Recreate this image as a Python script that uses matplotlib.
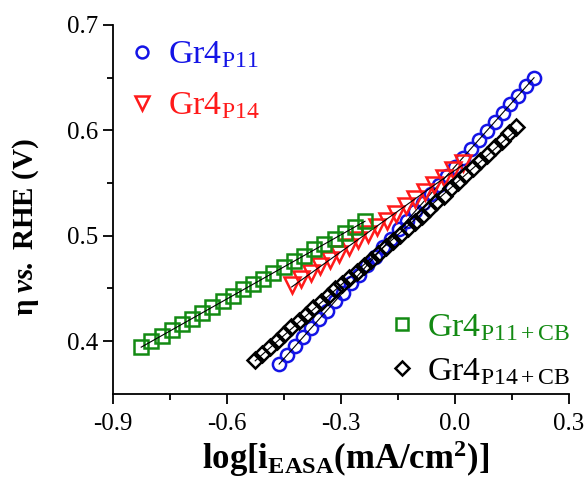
import matplotlib
matplotlib.use("Agg")
import matplotlib.pyplot as plt
import numpy as np

plt.rcParams['font.family'] = ['Liberation Serif', 'DejaVu Serif']
plt.rcParams['mathtext.fontset'] = 'custom'
plt.rcParams['mathtext.rm'] = 'Liberation Serif'
plt.rcParams['mathtext.it'] = 'Liberation Serif:italic'
plt.rcParams['mathtext.bf'] = 'Liberation Serif:bold'
plt.rcParams['mathtext.bfit'] = 'Liberation Serif:bold:italic'

# Gr4_P11 (blue circles)
p11_x = [-0.463, -0.442, -0.421, -0.400, -0.379, -0.358, -0.337, -0.316, -0.295, -0.274,
         -0.253, -0.232, -0.211, -0.190, -0.169, -0.148, -0.127, -0.106, -0.085, -0.064,
         -0.043, -0.022, -0.001, 0.020, 0.041, 0.062, 0.083, 0.104, 0.125, 0.146,
         0.167, 0.188, 0.208]
p11_y = [0.378, 0.387, 0.395, 0.404, 0.412, 0.421, 0.429, 0.438, 0.446, 0.455,
         0.463, 0.472, 0.480, 0.489, 0.497, 0.506, 0.514, 0.523, 0.531, 0.540,
         0.548, 0.557, 0.565, 0.574, 0.582, 0.591, 0.599, 0.608, 0.616, 0.625,
         0.633, 0.642, 0.650]

# Gr4_P14 (red triangles)
p14_x = [-0.430, -0.405, -0.380, -0.355, -0.330, -0.305, -0.280, -0.255, -0.230, -0.205,
         -0.180, -0.155, -0.130, -0.105, -0.080, -0.055, -0.030, -0.005, 0.020]
p14_y = [0.453, 0.459, 0.465, 0.471, 0.477, 0.483, 0.489, 0.496, 0.502, 0.508,
         0.514, 0.521, 0.528, 0.535, 0.541, 0.548, 0.555, 0.562, 0.569]

# Gr4_P11+CB (green squares)
p11cb_x = [-0.826, -0.799, -0.772, -0.746, -0.719, -0.692, -0.665, -0.639, -0.612, -0.585,
           -0.558, -0.531, -0.505, -0.478, -0.451, -0.424, -0.398, -0.371, -0.344, -0.317,
           -0.290, -0.264, -0.237]
p11cb_y = [0.394, 0.400, 0.405, 0.411, 0.416, 0.421, 0.427, 0.432, 0.438, 0.443,
           0.449, 0.454, 0.459, 0.465, 0.470, 0.476, 0.481, 0.487, 0.492, 0.497,
           0.503, 0.508, 0.514]

# Gr4_P14+CB (black diamonds)
p14cb_x = [-0.526, -0.507, -0.488, -0.469, -0.450, -0.431, -0.411, -0.392, -0.373, -0.354,
           -0.335, -0.316, -0.297, -0.278, -0.259, -0.240, -0.221, -0.202, -0.183, -0.163,
           -0.144, -0.125, -0.106, -0.087, -0.068, -0.049, -0.030, -0.011, 0.008, 0.027,
           0.046, 0.065, 0.085, 0.104, 0.123, 0.142, 0.161]
p14cb_y = [0.382, 0.388, 0.394, 0.400, 0.407, 0.413, 0.419, 0.425, 0.431, 0.437,
           0.443, 0.449, 0.454, 0.460, 0.466, 0.471, 0.477, 0.483, 0.489, 0.495,
           0.501, 0.507, 0.513, 0.519, 0.525, 0.532, 0.538, 0.545, 0.551, 0.558,
           0.564, 0.571, 0.577, 0.584, 0.590, 0.597, 0.603]

series = [
    (p11_x, p11_y, 'o', '#1414e6', 9.5, r'Gr4$_{\mathrm{P11}}$'),
    (p14_x, p14_y, 'v', '#ff1a1a', 11, r'Gr4$_{\mathrm{P14}}$'),
    (p11cb_x, p11cb_y, 's', '#138a13', 9.5, r'Gr4$_{\mathrm{P11+CB}}$'),
    (p14cb_x, p14cb_y, 'D', 'black', 8, r'Gr4$_{\mathrm{P14+CB}}$'),
]

fig = plt.figure(figsize=(5.86, 4.88), dpi=100)
ax = fig.add_axes([0.193, 0.193, 0.778, 0.756])

handles = []
for x, y, mk, col, ms, lab in series:
    h, = ax.plot(x, y, linestyle='none', marker=mk, markersize=ms, markerfacecolor='none',
                 markeredgecolor=col, markeredgewidth=1.8, label=lab)
    handles.append(h)
    # linear Tafel fit
    k, b = np.polyfit(x, y, 1)
    xf = np.array([min(x), max(x)])
    ax.plot(xf, k * xf + b, color='black', linewidth=0.8)

leg_kw = dict(frameon=False, fontsize=24.5, handlelength=0.5, handletextpad=0.5,
              labelcolor='markeredgecolor', markerscale=0.9, borderaxespad=0)
leg1 = ax.legend(handles=handles[:2], loc='upper left', bbox_to_anchor=(0.015, 0.997),
                 labelspacing=0.6, **leg_kw)
ax.add_artist(leg1)
ax.legend(handles=handles[2:], loc='lower right', bbox_to_anchor=(1.033, -0.019),
          labelspacing=0.39, **leg_kw)

ax.set_xlim(-0.9, 0.3)
ax.set_ylim(0.35, 0.7)
ax.set_xticks([-0.9, -0.6, -0.3, 0.0, 0.3])
ax.set_xticks([-0.75, -0.45, -0.15, 0.15], minor=True)
ax.set_yticks([0.4, 0.5, 0.6, 0.7])
ax.set_yticks([0.45, 0.55, 0.65], minor=True)
ax.set_xticklabels(['-0.9', '-0.6', '-0.3', '0.0', '0.3'])
ax.tick_params(which='major', direction='out', length=7, width=1.3, labelsize=18)
ax.tick_params(axis='x', which='major', pad=7)
ax.tick_params(which='minor', direction='out', length=4, width=1.3)
for s in ['top', 'right']:
    ax.spines[s].set_visible(False)
for s in ['left', 'bottom']:
    ax.spines[s].set_linewidth(1.3)

ax.set_xlabel(r'log[i$_{\mathbf{EASA}}$(mA/cm$^{\mathbf{2}}$)]', fontsize=25,
              fontweight='bold')
ax.xaxis.set_label_coords(0.509, -0.12)
ax.set_ylabel(r'$\mathbf{η}\ \mathbfit{vs.}\ \mathbf{RHE\ (V)}$', fontsize=21)
ax.yaxis.set_label_coords(-0.158, 0.453)

fig.savefig('out.png', dpi=100)
